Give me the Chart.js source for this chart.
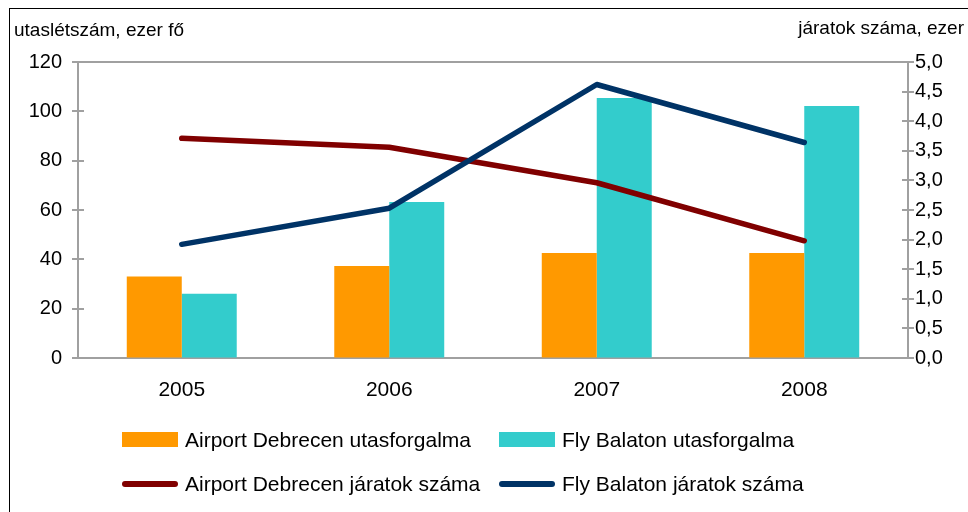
<!DOCTYPE html>
<html>
<head>
<meta charset="utf-8">
<script src="https://cdn.jsdelivr.net/npm/chart.js@4.4.1/dist/chart.umd.min.js"></script>
<style>
  body { margin: 0; background: #fff; overflow: hidden; }
  #wrap { position: relative; width: 968px; height: 512px; overflow: hidden; }
  #frame { position: absolute; left: 9px; top: 8px; width: 1000px; height: 560px; border: 1px solid #000; box-sizing: border-box; }
  #chartBox { position: absolute; left: 0; top: 0; width: 968px; height: 512px; }
  #legend { position: absolute; left: 122px; top: 428px; display: grid; grid-template-columns: 377px 377px; grid-auto-rows: 44px; font-family: "Liberation Sans", Arial, sans-serif; font-size: 21px; color: #000; }
  .item { display: flex; align-items: center; height: 23px; white-space: nowrap; }
  .swatch { width: 56px; margin-right: 7px; flex: none; }
</style>
</head>
<body>
<div id="wrap">
  <div id="frame"></div>
  <div id="chartBox"><canvas id="jaratChart"></canvas></div>
  <div id="legend"></div>
</div>
<script>
// adatok
const years = ['2005', '2006', '2007', '2008'];
const debrecenUtas = [33, 37.3, 42.6, 42.6];
const balatonUtas = [26, 63.2, 105.4, 102.2];
const debrecenJarat = [3.71, 3.56, 2.96, 1.98];
const balatonJarat = [1.92, 2.53, 4.62, 3.64];
const leftTicks = [0, 20, 40, 60, 80, 100, 120];

const axisGray = '#a0a0a0';
const font = 'Liberation Sans, Arial, sans-serif';

// tengelyfeliratok, felso keret, keresztezo osztasjelek
const extrasPlugin = {
    id: 'extras',
    afterDraw(chart) {
        const ctx = chart.ctx;
        const area = chart.chartArea;
        ctx.save();
        ctx.strokeStyle = axisGray;
        ctx.lineWidth = 2;
        ctx.beginPath();
        ctx.moveTo(area.left, area.top);
        ctx.lineTo(area.right, area.top);
        ctx.stroke();

        ['y', 'y1'].forEach(id => {
            const scale = chart.scales[id];
            const x = id === 'y' ? area.left : area.right;
            ctx.beginPath();
            scale.ticks.forEach((t, i) => {
                const py = Math.round(scale.getPixelForTick(i));
                ctx.moveTo(x - 6, py);
                ctx.lineTo(x + 6, py);
            });
            ctx.stroke();
        });

        ctx.fillStyle = '#000';
        ctx.font = '19px ' + font;
        ctx.textBaseline = 'alphabetic';
        ctx.textAlign = 'left';
        ctx.fillText('utaslétszám, ezer fő', 14, 36);
        ctx.textAlign = 'right';
        ctx.fillText('járatok száma, ezer', 964, 34);
        ctx.restore();
    }
};

const ctx = document.getElementById('jaratChart').getContext('2d');
const jaratChart = new Chart(ctx, {
    data: {
        labels: years,
        datasets: [
            { type: 'bar', label: 'Airport Debrecen utasforgalma', data: debrecenUtas, backgroundColor: '#ff9900', yAxisID: 'y', order: 2 },
            { type: 'bar', label: 'Fly Balaton utasforgalma', data: balatonUtas, backgroundColor: '#33cccc', yAxisID: 'y', order: 2 },
            { type: 'line', label: 'Airport Debrecen járatok száma', data: debrecenJarat, borderColor: '#800000', borderWidth: 5.5, pointRadius: 0, borderCapStyle: 'round', borderJoinStyle: 'round', yAxisID: 'y1', order: 1 },
            { type: 'line', label: 'Fly Balaton járatok száma', data: balatonJarat, borderColor: '#003366', borderWidth: 5.5, pointRadius: 0, borderCapStyle: 'round', borderJoinStyle: 'round', yAxisID: 'y1', order: 0 }
        ]
    },
    options: {
        responsive: true,
        maintainAspectRatio: false,
        animation: false,
        layout: { padding: { top: 62, left: 0, right: 0, bottom: 0 } },
        datasets: { bar: { categoryPercentage: 0.53, barPercentage: 1 } },
        plugins: { legend: { display: false }, tooltip: { enabled: false } },
        scales: {
            x: {
                grid: { display: true, drawOnChartArea: false, drawTicks: false },
                border: { color: axisGray, width: 2 },
                ticks: { color: '#000', font: { family: font, size: 21 }, padding: 20 },
                afterFit(scale) { scale.height = 154; }
            },
            y: {
                position: 'left',
                min: 0, max: 120,
                afterBuildTicks(scale) { scale.ticks = leftTicks.map(v => ({ value: v })); },
                grid: { display: true, drawOnChartArea: false, drawTicks: false },
                border: { color: axisGray, width: 2 },
                ticks: { color: '#000', font: { family: font, size: 20 }, padding: 16 },
                afterFit(scale) { scale.width = 78; }
            },
            y1: {
                position: 'right',
                min: 0, max: 5,
                ticks: { stepSize: 0.5, color: '#000', font: { family: font, size: 20 }, padding: 7,
                    callback: v => v.toFixed(1).replace('.', ',') },
                grid: { display: true, drawOnChartArea: false, drawTicks: false },
                border: { color: axisGray, width: 2 },
                afterFit(scale) { scale.width = 60; }
            }
        }
    },
    plugins: [extrasPlugin]
});

// HTML jelmagyarazat az adatsorokbol
const legendEl = document.getElementById('legend');
jaratChart.data.datasets.forEach(ds => {
    const item = document.createElement('div');
    item.className = 'item';
    const sw = document.createElement('span');
    sw.className = 'swatch';
    if (ds.type === 'bar') {
        sw.style.height = '15px';
        sw.style.background = ds.backgroundColor;
    } else {
        sw.style.height = '6px';
        sw.style.borderRadius = '3px';
        sw.style.background = ds.borderColor;
    }
    const txt = document.createElement('span');
    txt.textContent = ds.label;
    item.appendChild(sw);
    item.appendChild(txt);
    legendEl.appendChild(item);
});
</script>
</body>
</html>
